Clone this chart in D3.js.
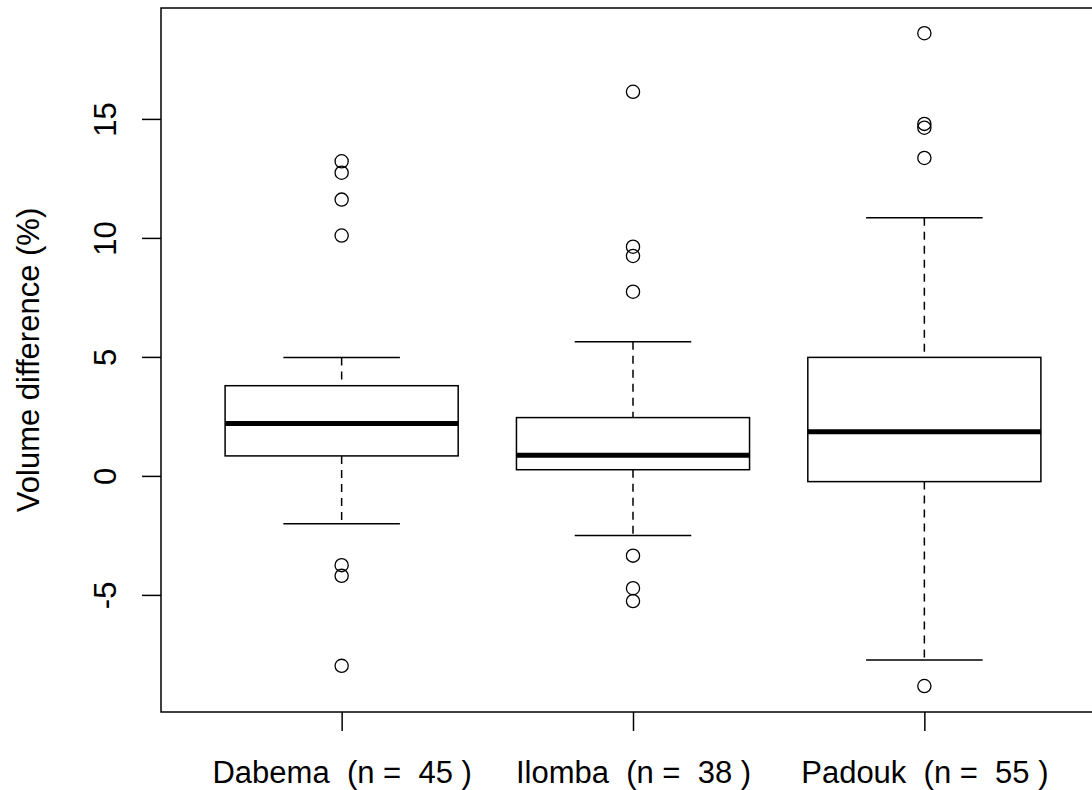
<!DOCTYPE html>
<html>
<head>
<meta charset="utf-8">
<script src="https://d3js.org/d3.v7.min.js"></script>
<style>
body { margin: 0; background: #fff; }
svg text { font-family: "Liberation Sans", Arial, sans-serif; fill: #000; white-space: pre; }
</style>
</head>
<body>
<svg id="chart" width="1092" height="790"></svg>
<script>
// box stats
var species = ["Dabema", "Ilomba", "Padouk"];
var counts = [45, 38, 55];
var whiskerLow = [-2.01, -2.50, -7.73];
var q1 = [0.84, 0.26, -0.24];
var median = [2.20, 0.87, 1.86];
var q3 = [3.79, 2.45, 4.98];
var whiskerHigh = [4.98, 5.64, 10.85];
var outliers = [
  [13.22, 12.74, 11.61, 10.10, -3.75, -4.20, -7.98],
  [16.14, 9.63, 9.24, 7.74, -3.35, -4.72, -5.26],
  [18.60, 14.79, 14.63, 13.36, -8.83]
];
var yTicks = [-5, 0, 5, 10, 15];

var svg = d3.select("#chart");
var pLeft = 161, pRight = 1105, pTop = 8, pBottom = 712;
var fontSize = "31px";

var x = d3.scaleLinear().domain([0.38, 3.62]).range([pLeft, pRight]);
var y = d3.scaleLinear().domain([-9.92, 19.66]).range([pBottom, pTop]);

var unit = x(1) - x(0);
var boxW = 0.8 * unit;
var capW = boxW / 2;

var data = species.map(function(s, i) {
  return {name: s, pos: i + 1, n: counts[i], lo: whiskerLow[i], q1: q1[i],
          med: median[i], q3: q3[i], hi: whiskerHigh[i], out: outliers[i]};
});

var g = svg.selectAll("g.box").data(data).enter().append("g").attr("class", "box");

// dashed whiskers
g.append("line")
  .attr("x1", function(d) { return x(d.pos); }).attr("x2", function(d) { return x(d.pos); })
  .attr("y1", function(d) { return y(d.hi); }).attr("y2", function(d) { return y(d.q3); })
  .attr("stroke", "#000").attr("stroke-width", 1.5).attr("stroke-dasharray", "8,6");
g.append("line")
  .attr("x1", function(d) { return x(d.pos); }).attr("x2", function(d) { return x(d.pos); })
  .attr("y1", function(d) { return y(d.q1); }).attr("y2", function(d) { return y(d.lo); })
  .attr("stroke", "#000").attr("stroke-width", 1.5).attr("stroke-dasharray", "8,6");

// caps
["hi", "lo"].forEach(function(k) {
  g.append("line")
    .attr("x1", function(d) { return x(d.pos) - capW / 2; })
    .attr("x2", function(d) { return x(d.pos) + capW / 2; })
    .attr("y1", function(d) { return y(d[k]); }).attr("y2", function(d) { return y(d[k]); })
    .attr("stroke", "#000").attr("stroke-width", 1.5);
});

// boxes
g.append("rect")
  .attr("x", function(d) { return x(d.pos) - boxW / 2; })
  .attr("width", boxW)
  .attr("y", function(d) { return y(d.q3); })
  .attr("height", function(d) { return y(d.q1) - y(d.q3); })
  .attr("fill", "#fff").attr("stroke", "#000").attr("stroke-width", 1.5);

// medians
g.append("line")
  .attr("x1", function(d) { return x(d.pos) - boxW / 2; })
  .attr("x2", function(d) { return x(d.pos) + boxW / 2; })
  .attr("y1", function(d) { return y(d.med); }).attr("y2", function(d) { return y(d.med); })
  .attr("stroke", "#000").attr("stroke-width", 5);

// outlier points
g.selectAll("circle")
  .data(function(d) { return d.out.map(function(v) { return {pos: d.pos, v: v}; }); })
  .enter().append("circle")
  .attr("cx", function(d) { return x(d.pos); })
  .attr("cy", function(d) { return y(d.v); })
  .attr("r", 6.6)
  .attr("fill", "none").attr("stroke", "#000").attr("stroke-width", 1.3);

// plot frame
svg.append("rect")
  .attr("x", pLeft).attr("y", pTop)
  .attr("width", pRight - pLeft).attr("height", pBottom - pTop)
  .attr("fill", "none").attr("stroke", "#000").attr("stroke-width", 1.5);

// y axis (plain hyphen for negatives, like R)
var yAxis = svg.append("g")
  .attr("transform", "translate(" + pLeft + ",0)")
  .call(d3.axisLeft(y).tickValues(yTicks).tickSize(19).tickFormat(function(d) { return String(d); }));
yAxis.select(".domain").remove();
yAxis.selectAll("line").attr("stroke", "#000").attr("stroke-width", 1.5);
yAxis.selectAll("text")
  .attr("transform", "rotate(-90)")
  .attr("x", 0).attr("y", -45).attr("dy", 0)
  .attr("text-anchor", "middle")
  .style("font-size", fontSize);

// x axis
var xAxis = svg.append("g")
  .attr("transform", "translate(0," + pBottom + ")")
  .call(d3.axisBottom(x).tickValues([1, 2, 3]).tickSize(19)
    .tickFormat(function(d) { var i = d - 1; return species[i] + "  (n =  " + counts[i] + " )"; }));
xAxis.select(".domain").remove();
xAxis.selectAll("line").attr("stroke", "#000").attr("stroke-width", 1.5);
xAxis.selectAll("text")
  .attr("y", 71).attr("dy", 0)
  .style("font-size", fontSize);

// y title
svg.append("text")
  .attr("transform", "translate(39,360) rotate(-90)")
  .attr("text-anchor", "middle")
  .style("font-size", fontSize)
  .text("Volume difference (%)");
</script>
</body>
</html>
